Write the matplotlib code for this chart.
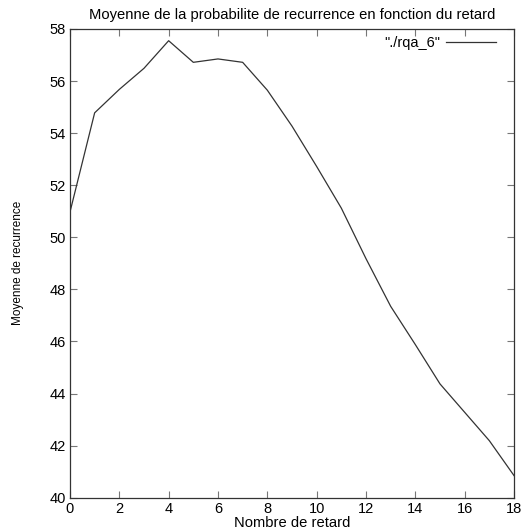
import matplotlib
matplotlib.use("Agg")
import matplotlib.pyplot as plt
import numpy as np

# valeurs
retard = np.arange(0, 19)
moyenne = [50.97, 54.78, 55.68, 56.49, 57.55, 56.72, 56.85, 56.72, 55.65, 54.27,
           52.72, 51.12, 49.18, 47.35, 45.88, 44.37, 43.28, 42.19, 40.85]

plt.rcParams['font.family'] = ['Liberation Sans', 'DejaVu Sans']

fig = plt.figure(figsize=(5.23, 5.31), dpi=100)
ax = fig.add_axes([0.1338, 0.0627, 0.8490, 0.8827])

ax.plot(retard, moyenne, color='#333333', linewidth=0.9, label='"./rqa_6"')

ax.set_xlim(0, 18)
ax.set_ylim(40, 58)
ax.set_xticks(np.arange(0, 19, 2))
ax.set_yticks(np.arange(40, 59, 2))

ax.tick_params(direction='in', length=5, width=0.8, color='#777777',
               top=True, right=True, labelsize=10.5, pad=3)
for s in ax.spines.values():
    s.set_linewidth(0.9)
    s.set_color('#333333')

ax.set_title('Moyenne de la probabilite de recurrence en fonction du retard',
             fontsize=10.6, pad=7)
ax.set_xlabel('Nombre de retard', fontsize=10.6, labelpad=0)
ax.set_ylabel('Moyenne de recurrence', fontsize=8.5, labelpad=18)

leg = ax.legend(loc='upper right', frameon=False, markerfirst=False,
                fontsize=10.5, handlelength=3.4, handletextpad=0.4,
                borderaxespad=0.3, borderpad=0.2)
leg.set_bbox_to_anchor((0.975, 1.0), transform=ax.transAxes)

plt.savefig('out.png', dpi=100)
